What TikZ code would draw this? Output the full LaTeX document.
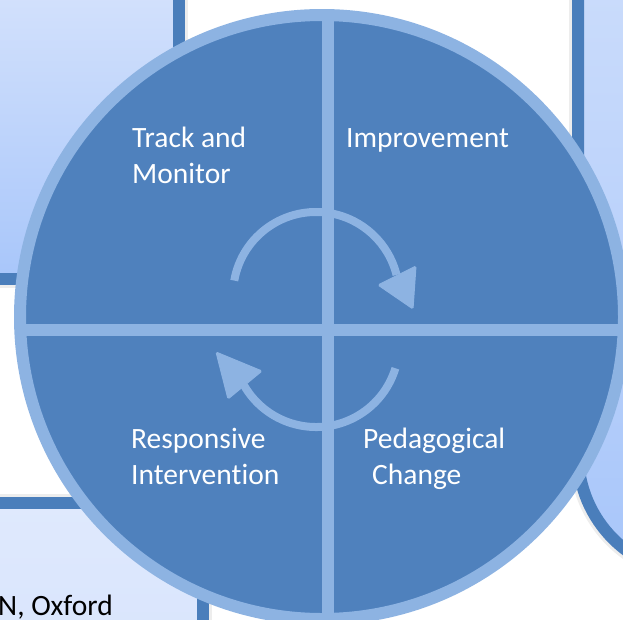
\documentclass[tikz,border=0pt]{standalone}
\usepackage{fontspec}
\setmainfont{Carlito}[Ligatures=NoCommon]

\definecolor{cycleblue}{HTML}{4F81BD}
\definecolor{cyclelight}{HTML}{8DB3E2}
\definecolor{boxedge}{HTML}{4A7EBB}
\definecolor{boxtop}{HTML}{D6E3FC}
\definecolor{boxbottom}{HTML}{A8C6FA}
\definecolor{boxpale}{HTML}{DFE9FD}

\begin{document}
\begin{tikzpicture}[x=1pt, y=1pt]
        \tikzstyle{box}=[draw=boxedge, line width=12pt, top color=boxtop, bottom color=boxbottom]
        \tikzstyle{boxshadow}=[draw=black!7, line width=18pt]
        \tikzstyle{divider}=[draw=cyclelight, line width=12pt]
        \tikzstyle{turn}=[draw=cyclelight, line width=8pt]
        \tikzstyle{tip}=[fill=cyclelight, draw=cyclelight, line width=1pt, rounded corners=1.5pt]
        \tikzstyle{caption}=[inner sep=0pt, anchor=base west, text=white, font=\fontsize{29.5}{36}\selectfont]

        \useasboundingbox (0,0) rectangle (623,-619);
        \clip (0,0) rectangle (623,-619);

        % boxes behind
        \draw[boxshadow] (-30,30) rectangle (178.5,-279);
        \draw[box] (-30,30) rectangle (178.5,-279);
        \draw[boxshadow, rounded corners=120pt] (578,-574) rectangle (900,300);
        \draw[box, top color=boxtop!90!white, rounded corners=120pt] (578,-574) rectangle (900,300);
        \draw[boxshadow] (-30,-503) rectangle (202.5,-720);
        \draw[box, top color=boxpale, bottom color=boxtop] (-30,-503) rectangle (202.5,-720);
        \draw[box] (660,-826) circle (200pt);

        % the cycle
        \coordinate (mid) at (322,-317);
        \coordinate (hub) at (328,-329.5);
        \fill[cycleblue] (mid) circle (302pt);
        \begin{scope}
            \clip (mid) circle (302pt);
            \draw[divider] (hub) ++(0,340) -- ++(0,-680);
            \draw[divider] (hub) ++(-340,0) -- ++(680,0);
        \end{scope}
        \draw[cyclelight, line width=12pt] (mid) circle (302pt);

        % turning arrows
        \coordinate (upper) at (316,-295);
        \coordinate (lower) at (316,-344);
        \draw[turn] (upper) ++(170:83pt) arc[start angle=170, end angle=14, radius=83pt];
        \path[tip] (378,-285) -- (416,-266) -- (413,-309) -- cycle;
        \draw[turn] (lower) ++(-17:83pt) arc[start angle=-17, end angle=-150, radius=83pt];
        \path[tip] (216,-352) -- (262,-371) -- (228,-399) -- cycle;

        \node[caption] (track)     at (132,-147) {Track and};
        \node[caption] (monitor)   at (132,-183) {Monitor};
        \node[caption] (improve)   at (346,-147) {Improvement};
        \node[caption] (respond)   at (131,-448) {Responsive};
        \node[caption] (intervene) at (131,-484) {Intervention};
        \node[caption] (pedagogy)  at (363,-448) {Pedagogical};
        \node[caption] (change)    at (372,-484) {Change};
        \node[caption, text=black] (oxford) at (-2,-615) {N, Oxford};

    \end{tikzpicture}
\end{document}
